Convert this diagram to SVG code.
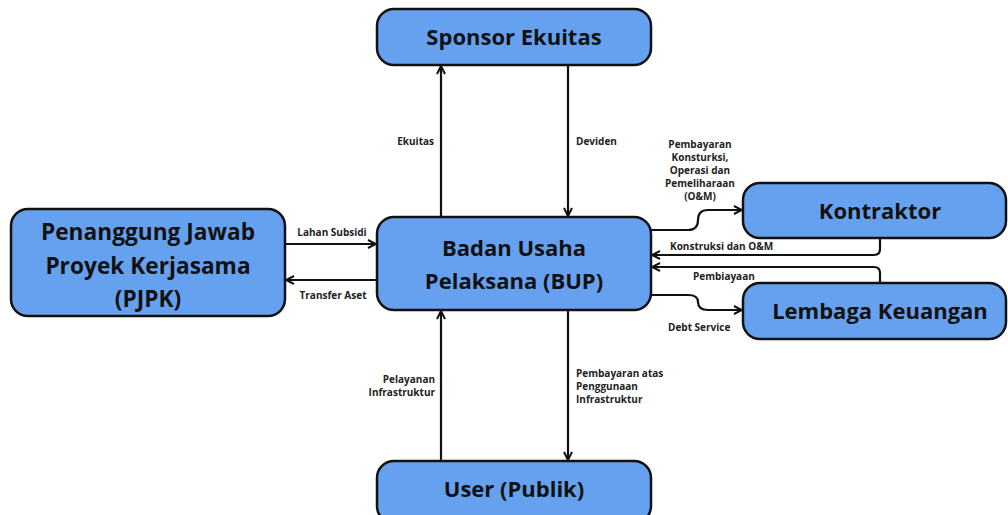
<svg xmlns="http://www.w3.org/2000/svg" width="1008" height="515" viewBox="0 0 1008 515">
<defs>
<marker id="ah" viewBox="0 0 10 10" refX="9" refY="5" markerWidth="10" markerHeight="10" markerUnits="userSpaceOnUse" orient="auto">
<path d="M1,1 L9,5 L1,9" fill="none" stroke="#111" stroke-width="2"/>
</marker>
<style>
.box{fill:#66a1ef;stroke:#111;stroke-width:2.5}
.nt{font-family:"Open Sans","Liberation Sans",sans-serif;font-weight:bold;font-size:22px;fill:#111;text-anchor:middle}
.big{font-size:22.7px}
.lb{font-family:"Open Sans","Liberation Sans",sans-serif;font-weight:bold;font-size:10px;fill:#222}
.c{fill:none;stroke:#111;stroke-width:2.2;marker-end:url(#ah)}
</style>
</defs>
<rect width="1008" height="515" fill="#fff"/>
<g id="sponsor"><rect class="box" x="377" y="9" width="274" height="56" rx="17"/><text class="nt" x="514" y="45">Sponsor Ekuitas</text></g>
<g id="pjpk"><rect class="box" x="11" y="209" width="274" height="107" rx="17"/><text class="nt big" x="148" y="240">Penanggung Jawab</text><text class="nt big" x="148" y="274">Proyek Kerjasama</text><text class="nt big" x="148" y="307">(PJPK)</text></g>
<g id="bup"><rect class="box" x="377" y="217" width="274" height="93" rx="17"/><text class="nt" x="514" y="256">Badan Usaha</text><text class="nt" x="514" y="289">Pelaksana (BUP)</text></g>
<g id="kontraktor"><rect class="box" x="743" y="183" width="263" height="55" rx="17"/><text class="nt" x="880" y="219">Kontraktor</text></g>
<g id="lembaga"><rect class="box" x="743" y="283" width="263" height="56" rx="17"/><text class="nt" x="880" y="319">Lembaga Keuangan</text></g>
<g id="user"><rect class="box" x="377" y="461" width="274" height="62" rx="17"/><text class="nt" x="514" y="497">User (Publik)</text></g>
<g id="connectors">
<path class="c" d="M441,217 V66"/>
<path class="c" d="M568,65 V216"/>
<path class="c" d="M285,244 H376"/>
<path class="c" d="M377,280 H286"/>
<path class="c" d="M441,461 V311"/>
<path class="c" d="M568,310 V460"/>
<path class="c" d="M651,230 H688 Q698,230 698,220 Q698,210 708,210 H742"/>
<path class="c" d="M880,238 V249 Q880,255 874,255 H652"/>
<path class="c" d="M880,283 V273 Q880,267 874,267 H652"/>
<path class="c" d="M651,295 H688 Q698,295 698,302 Q698,310 708,310 H742"/>
</g>
<g id="labels">
<text class="lb" x="434" y="145" text-anchor="end">Ekuitas</text>
<text class="lb" x="576" y="145">Deviden</text>
<text class="lb" x="332" y="236" text-anchor="middle">Lahan Subsidi</text>
<text class="lb" x="333" y="299" text-anchor="middle">Transfer Aset</text>
<text class="lb" x="435" y="383" text-anchor="end">Pelayanan</text>
<text class="lb" x="435" y="396" text-anchor="end">Infrastruktur</text>
<text class="lb" x="576" y="377">Pembayaran atas</text>
<text class="lb" x="576" y="390">Penggunaan</text>
<text class="lb" x="576" y="403">Infrastruktur</text>
<text class="lb" x="700" y="148" text-anchor="middle">Pembayaran</text>
<text class="lb" x="700" y="161" text-anchor="middle">Konsturksi,</text>
<text class="lb" x="700" y="174" text-anchor="middle">Operasi dan</text>
<text class="lb" x="700" y="187" text-anchor="middle">Pemeliharaan</text>
<text class="lb" x="700" y="200" text-anchor="middle">(O&amp;M)</text>
<text class="lb" x="670" y="250">Konstruksi dan O&amp;M</text>
<text class="lb" x="693" y="280">Pembiayaan</text>
<text class="lb" x="668" y="331">Debt Service</text>
</g>
</svg>
